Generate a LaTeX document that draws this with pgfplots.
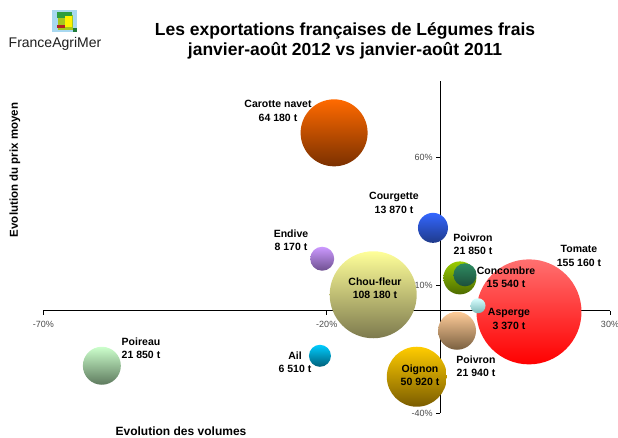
\documentclass[border=0pt]{standalone}
\usepackage{pgfplots}
\pgfplotsset{compat=1.18}
\usepackage{fontspec}
\setmainfont{Liberation Sans}
\definecolor{carT}{HTML}{FF6A00}\definecolor{carB}{HTML}{7A3000}
\definecolor{couT}{HTML}{3366FF}\definecolor{couB}{HTML}{1F3A8A}
\definecolor{endT}{HTML}{CC99FF}\definecolor{endB}{HTML}{6E5090}
\definecolor{chfT}{HTML}{FFFF99}\definecolor{chfB}{HTML}{7D7A4E}
\definecolor{pvvT}{HTML}{99CC00}\definecolor{pvvB}{HTML}{4D6B00}
\definecolor{conT}{HTML}{2E8B62}\definecolor{conB}{HTML}{1C4F3A}
\definecolor{tomT}{HTML}{FF7070}\definecolor{tomB}{HTML}{FF0000}
\definecolor{aspT}{HTML}{D8FFFF}\definecolor{aspB}{HTML}{7AB8B8}
\definecolor{pvtT}{HTML}{FFCC99}\definecolor{pvtB}{HTML}{7A6040}
\definecolor{oigT}{HTML}{FFCC00}\definecolor{oigB}{HTML}{7A5C00}
\definecolor{ailT}{HTML}{00CCFF}\definecolor{ailB}{HTML}{00607A}
\definecolor{poiT}{HTML}{CCFFCC}\definecolor{poiB}{HTML}{5E7A5E}
\definecolor{tickgray}{HTML}{4A4A4A}
\pgfplotsset{bub/.style n args={3}{mark=none, nodes near coords={},
  nodes near coords style={circle, inner sep=0pt, minimum size=#1pt, draw=none,
  top color=#2, bottom color=#3, anchor=center}}}
\begin{document}
\begin{tikzpicture}
\path[use as bounding box] (0pt,0pt) rectangle (618pt,437pt);
\begin{axis}[
  at={(43.5pt,24pt)}, anchor=south west,
  scale only axis, width=566.5pt, height=332pt,
  xmin=-70, xmax=30, ymin=-40, ymax=90,
  axis lines=middle, axis line style={-, black, line width=0.8pt},
  xtick={-70,-20,30}, xticklabels={{-70\%},{-20\%},{30\%}},
  ytick={-40,10,60}, yticklabels={{-40\%},{10\%},{60\%}},
  tick align=outside, major tick length=4pt,
  tick style={black, line width=0.8pt},
  tick label style={font=\fontsize{9}{10}\selectfont, text=tickgray},
  xticklabel style={yshift=-3pt},
  clip=false,
]
\addplot[bub={67}{carT}{carB}] coordinates {(-18.7,69.7)};
\addplot[bub={30}{couT}{couB}] coordinates {(-1.25,32.5)};
\addplot[bub={24}{endT}{endB}] coordinates {(-20.8,20.4)};
\addplot[bub={87}{chfT}{chfB}] coordinates {(-11.8,6.3)};
\addplot[bub={33}{pvvT}{pvvB}] coordinates {(3.5,12.9)};
\addplot[bub={23}{conT}{conB}] coordinates {(4.4,14.1)};
\addplot[bub={105}{tomT}{tomB}] coordinates {(15.7,-0.4)};
\addplot[bub={15}{aspT}{aspB}] coordinates {(6.7,2.0)};
\addplot[bub={38}{pvtT}{pvtB}] coordinates {(3.0,-7.8)};
\addplot[bub={60}{oigT}{oigB}] coordinates {(-4.1,-25.8)};
\addplot[bub={22}{ailT}{ailB}] coordinates {(-21.2,-17.6)};
\addplot[bub={38}{poiT}{poiB}] coordinates {(-59.7,-21.5)};
\end{axis}
% labels
\tikzset{lab/.style={align=center, font=\bfseries\fontsize{10.5}{13.5}\selectfont, inner sep=0pt}}
\node[lab] at (278pt,326pt) {Carotte navet\\64 180 t};
\node[lab] at (394pt,234pt) {Courgette\\13 870 t};
\node[lab] at (291pt,197pt) {Endive\\8 170 t};
\node[lab] at (375pt,149pt) {Chou-fleur\\108 180 t};
\node[lab] at (473pt,193pt) {Poivron\\21 850 t};
\node[lab] at (506pt,160pt) {Concombre\\15 540 t};
\node[lab] at (579pt,181pt) {Tomate\\155 160 t};
\node[lab] at (509pt,118pt) {Asperge\\3 370 t};
\node[lab] at (476pt,71pt) {Poivron\\21 940 t};
\node[lab] at (420pt,62pt) {Oignon\\50 920 t};
\node[lab] at (295pt,75pt) {Ail\\6 510 t};
\node[lab] at (141pt,89pt) {Poireau\\21 850 t};
% title
\node[align=center, font=\bfseries\fontsize{17.5}{20}\selectfont, inner sep=0pt] at (345pt,396pt)
  {Les exportations françaises de Légumes frais\\janvier-août 2012 vs janvier-août 2011};
% axis titles
\node[rotate=90, font=\bfseries\fontsize{11.5}{13}\selectfont, inner sep=0pt] at (15pt,267pt) {Evolution du prix moyen};
\node[anchor=base, font=\bfseries\fontsize{12}{14}\selectfont, inner sep=0pt] at (181pt,1.5pt) {Evolution des volumes};
% logo
\fill[color={rgb,255:red,168;green,216;blue,240}] (52pt,405pt) rectangle (77pt,427pt);
\fill[color={rgb,255:red,165;green,200;blue,30}] (58pt,407pt) rectangle (73pt,422pt);
\fill[color={rgb,255:red,46;green,158;blue,62}] (57pt,419pt) rectangle (72pt,425pt);
\fill[color={rgb,255:red,255;green,242;blue,0}] (65pt,410pt) rectangle (72pt,421pt);
\fill[color={rgb,255:red,178;green,34;blue,34}] (57pt,409pt) rectangle (65pt,412pt);
\fill[color={rgb,255:red,30;green,123;blue,58}] (73pt,405pt) rectangle (77pt,409pt);
\node[anchor=base, font=\fontsize{14}{16}\selectfont, inner sep=0pt, text={rgb,255:red,30;green,30;blue,30}] at (55pt,389pt) {FranceAgriMer};
\end{tikzpicture}
\end{document}
